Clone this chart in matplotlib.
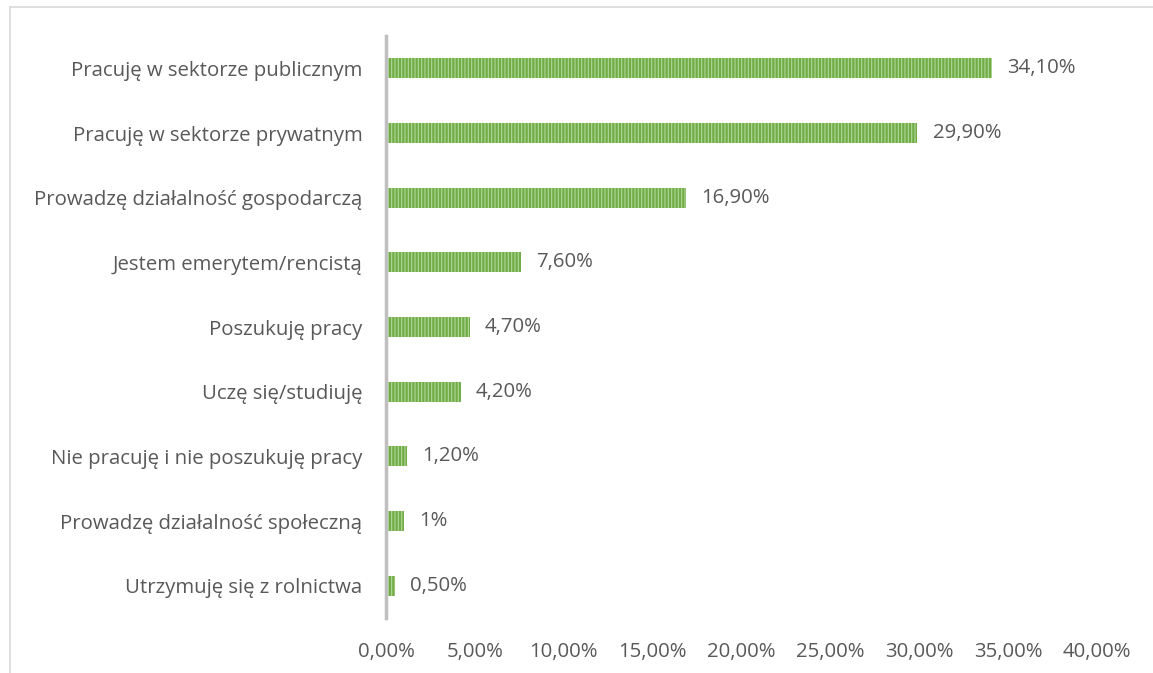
import matplotlib.pyplot as plt
from matplotlib.lines import Line2D
import matplotlib as mpl

# Dane
kategorie = ['Utrzymuję się z rolnictwa', 'Prowadzę działalność społeczną',
             'Nie pracuję i nie poszukuję pracy', 'Uczę się/studiuję',
             'Poszukuję pracy', 'Jestem emerytem/rencistą',
             'Prowadzę działalność gospodarczą', 'Pracuję w sektorze prywatnym',
             'Pracuję w sektorze publicznym']
wartosci = [0.5, 1.0, 1.2, 4.2, 4.7, 7.6, 16.9, 29.9, 34.1]
etykiety = ['0,50%', '1%', '1,20%', '4,20%', '4,70%', '7,60%', '16,90%', '29,90%', '34,10%']
ticki = [0, 5, 10, 15, 20, 25, 30, 35, 40]
tick_etykiety = ['0,00%', '5,00%', '10,00%', '15,00%', '20,00%', '25,00%',
                 '30,00%', '35,00%', '40,00%']

plt.rcParams['font.family'] = ['Open Sans', 'DejaVu Sans']
mpl.rcParams['hatch.linewidth'] = 0.8
mpl.rcParams['hatch.color'] = '#b4d89b'

W, H = 1153, 673
fig = plt.figure(figsize=(W / 100, H / 100), dpi=100)
ax = fig.add_axes([386 / W, 1 - 618 / H, (1097 - 386) / W, (618 - 36) / H])

# gęstość kreskowania: 6 linii na każdy znak '|'
ax.barh(range(len(kategorie)), wartosci, height=0.31, color='#70ad47',
        hatch='|' * 5, edgecolor='#b4d89b', linewidth=0)

tekst = '#595959'
fs = 14.7
for i, (v, e) in enumerate(zip(wartosci, etykiety)):
    ax.text(v + 0.85, i, e, va='center', ha='left', fontsize=fs, color=tekst)

ax.set_xlim(0, 40)
ax.set_ylim(-0.5, len(kategorie) - 0.5)
ax.set_xticks(ticki)
ax.set_xticklabels(tick_etykiety, fontsize=fs, color=tekst)
ax.set_yticks(range(len(kategorie)))
ax.set_yticklabels(kategorie, fontsize=fs, color=tekst)
ax.tick_params(length=0)
ax.tick_params(axis='x', pad=17)
ax.tick_params(axis='y', pad=17)

for s in ['top', 'right', 'bottom']:
    ax.spines[s].set_visible(False)
ax.spines['left'].set_color('#bfbfbf')
ax.spines['left'].set_linewidth(2.5)

# Ramka wykresu
fig.add_artist(Line2D([9.5 / W, 1], [1 - 6.5 / H, 1 - 6.5 / H], color='#d9d9d9', lw=1.2))
fig.add_artist(Line2D([9.5 / W, 9.5 / W], [0, 1 - 6.5 / H], color='#d9d9d9', lw=1.2))

fig.savefig('out.png', dpi=100)
